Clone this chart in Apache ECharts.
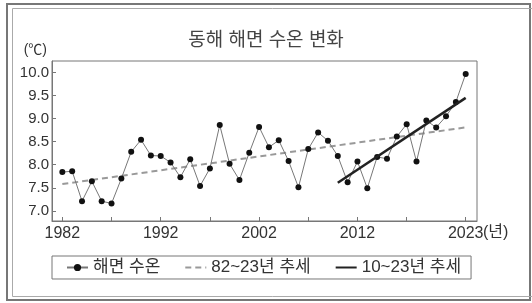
<!DOCTYPE html>
<html>
<head>
<meta charset="utf-8">
<script src="https://cdn.jsdelivr.net/npm/echarts@6/dist/echarts.min.js"></script>
<style>
  html, body { margin: 0; padding: 0; background: #fff; }
  #chart { width: 532px; height: 303px; }
</style>
</head>
<body>
<div id="chart"></div>
<script>
  // 연도와 동해 해면 수온 (℃)
  var years = [1982, 1983, 1984, 1985, 1986, 1987, 1988, 1989, 1990, 1991,
    1992, 1993, 1994, 1995, 1996, 1997, 1998, 1999, 2000, 2001,
    2002, 2003, 2004, 2005, 2006, 2007, 2008, 2009, 2010, 2011,
    2012, 2013, 2014, 2015, 2016, 2017, 2018, 2019, 2020, 2021,
    2022, 2023];
  var sst = [7.84, 7.86, 7.21, 7.64, 7.21, 7.16, 7.70, 8.28, 8.54, 8.20,
    8.19, 8.05, 7.73, 8.12, 7.54, 7.92, 8.86, 8.02, 7.67, 8.26,
    8.82, 8.38, 8.53, 8.08, 7.51, 8.34, 8.70, 8.52, 8.19, 7.62,
    8.07, 7.49, 8.17, 8.13, 8.61, 8.88, 8.07, 8.96, 8.81, 9.05,
    9.36, 9.97];
  // 추세선 양 끝 값
  var trendLong = [[1982, 7.58], [2023, 8.81]];
  var trendShort = [[2010, 7.61], [2023, 9.45]];

  var yTicks = [7.0, 7.5, 8.0, 8.5, 9.0, 9.5, 10.0];
  var xTicks = [1982, 1987, 1992, 1997, 2002, 2007, 2012, 2017, 2023];
  var xLabels = [1982, 1992, 2002, 2012, 2023];

  var font = "'Liberation Sans', 'Noto Sans CJK KR', sans-serif";

  var sstData = years.map(function (y, i) { return [y, sst[i]]; });

  var myChart = echarts.init(document.getElementById('chart'));
  myChart.setOption({
    animation: false,
    textStyle: { fontFamily: font },
    title: {
      text: '동해 해면 수온 변화',
      left: 'center',
      top: 26,
      textStyle: { fontSize: 19, fontWeight: 'normal', color: '#444', fontFamily: font }
    },
    graphic: [
      { type: 'rect', shape: { x: 7, y: 4, width: 523, height: 296 },
        style: { fill: 'none', stroke: '#777', lineWidth: 2 } },
      { type: 'rect', shape: { x: 12.5, y: 8.5, width: 530, height: 288 },
        style: { fill: 'none', stroke: '#aaa', lineWidth: 1 } }
    ],
    legend: {
      left: 52,
      top: 256,
      padding: [3, 10, 3, 14],
      itemWidth: 21,
      itemHeight: 9,
      itemGap: 24,
      borderColor: '#777',
      borderWidth: 1,
      textStyle: { fontSize: 17, color: '#333', fontFamily: font },
      data: [
        { name: '해면 수온' },
        { name: '82~23년 추세', itemStyle: { opacity: 0 } },
        { name: '10~23년 추세', itemStyle: { opacity: 0 } }
      ]
    },
    grid: {
      left: 52, right: 55, top: 61, bottom: 82,
      show: true, borderColor: '#777', borderWidth: 1
    },
    xAxis: {
      type: 'value',
      min: 1980.95,
      max: 2024.15,
      name: '(년)',
      nameLocation: 'end',
      nameGap: 6,
      nameMoveOverlap: false,
      nameTextStyle: { fontSize: 16, color: '#333', verticalAlign: 'top', padding: [4, 0, 0, 0] },
      splitLine: { show: false },
      axisLine: { lineStyle: { color: '#777' } },
      axisTick: { inside: true, length: 4, customValues: xTicks, lineStyle: { color: '#777' } },
      axisLabel: {
        customValues: xLabels, fontSize: 16, color: '#333', margin: 5,
        formatter: function (v) { return String(v); }
      }
    },
    yAxis: {
      type: 'value',
      min: 6.78,
      max: 10.25,
      name: '(℃)',
      nameLocation: 'end',
      nameGap: 4,
      nameTextStyle: { fontSize: 14, color: '#333', align: 'right', padding: [0, 5, 0, 0] },
      splitLine: { show: false },
      axisLine: { show: true, lineStyle: { color: '#777' } },
      axisTick: { show: true, inside: true, length: 4, customValues: yTicks, lineStyle: { color: '#777' } },
      axisLabel: {
        customValues: yTicks, fontSize: 15, color: '#333', margin: 3,
        formatter: function (v) { return v.toFixed(1); }
      }
    },
    series: [
      {
        name: '해면 수온',
        type: 'line',
        data: sstData,
        z: 3,
        symbol: 'circle',
        symbolSize: 6,
        itemStyle: { color: '#111' },
        lineStyle: { color: '#777', width: 1 }
      },
      {
        name: '82~23년 추세',
        type: 'line',
        data: trendLong,
        z: 2,
        symbol: 'none',
        itemStyle: { color: '#999' },
        lineStyle: { color: '#999', width: 2, type: [6, 4] }
      },
      {
        name: '10~23년 추세',
        type: 'line',
        data: trendShort,
        z: 4,
        symbol: 'none',
        itemStyle: { color: '#222' },
        lineStyle: { color: '#222', width: 2.5 }
      }
    ]
  });
</script>
</body>
</html>
